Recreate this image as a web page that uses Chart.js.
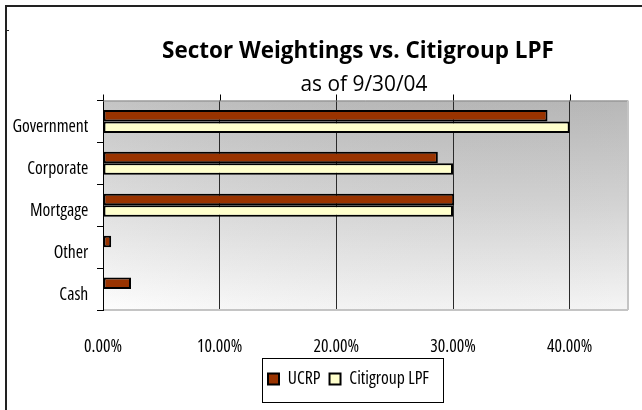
<!DOCTYPE html>
<html>
<head>
<meta charset="utf-8">
<script src="https://cdn.jsdelivr.net/npm/chart.js@4.4.0/dist/chart.umd.min.js"></script>
<style>
    body { margin: 0; background: #fff; }
</style>
</head>
<body>
<canvas id="sectors" width="642" height="410"></canvas>
<script>
// data (percent)
var sectors = ['Government', 'Corporate', 'Mortgage', 'Other', 'Cash'];
var ucrp = [38.1, 28.7, 30.1, 0.7, 2.4];
var citiLPF = [40.0, 30.0, 30.0, 0, 0];
var xTicks = [0, 10, 20, 30, 40];
var titleText = 'Sector Weightings vs. Citigroup LPF';
var subText = 'as of 9/30/04';

// font helpers: size the system fonts so the text widths match the original
var probe = document.createElement('canvas').getContext('2d');
function measure(font, text) { probe.font = font; return probe.measureText(text).width; }
function sizeFor(weight, family, text, target) { return 20 * target / measure(weight + ' 20px ' + family, text); }
function glyphBox(font) {   // how far a capital sits above / below a 'middle' baseline
    probe.font = font;
    probe.textBaseline = 'middle';
    var m = probe.measureText('H');
    probe.textBaseline = 'alphabetic';
    return { up: m.actualBoundingBoxAscent, down: m.actualBoundingBoxDescent };
}
function pickNarrow() {     // a condensed face, like the original's Gill Sans condensed
    var tries = [['extra-condensed', "'Noto Sans'"], ['condensed', "'Open Sans'"], ['condensed', "'Noto Sans'"]];
    for (var i = 0; i < tries.length; i++) {
        var n = measure('normal 20px ' + tries[i][1], 'Government');
        var c = measure(tries[i][0] + ' 20px ' + tries[i][1], 'Government');
        if (c < 0.88 * n) return { weight: tries[i][0], family: tries[i][1] };
    }
    var mono = measure('20px monospace', 'Government');
    if (measure("20px 'Liberation Sans Narrow', monospace", 'Government') !== mono) {
        return { weight: 'normal', family: "'Liberation Sans Narrow'" };
    }
    return { weight: 'normal', family: "'DejaVu Sans Condensed'" };
}

var narrow = pickNarrow();
var fs = sizeFor(narrow.weight, narrow.family, 'Government', 76);
var nBox = glyphBox(narrow.weight + ' ' + fs + 'px ' + narrow.family);
var nShift = (nBox.down - nBox.up) / 2;

var ts = sizeFor('bold', "'Open Sans'", titleText, 392);
var tBox = glyphBox('bold ' + ts + 'px ' + "'Open Sans'");
var ss = sizeFor('normal', "'Open Sans'", subText, 127);
var sBox = glyphBox('normal ' + ss + 'px ' + "'Open Sans'");

var titlePadTop = 58.3 - tBox.down - ts * 0.6;
var titleH = titlePadTop + ts * 1.2;
var subPadTop = 91.3 - sBox.down - ss * 0.6 - titleH;
var subPadBottom = 100.5 - titleH - subPadTop - ss * 1.2;

var legendTop = 379 - 9 - fs / 2;
var legendBottom = legendTop + fs + 19;

var framePlugin = {     // plot background, borders, top tick marks, legend box, page frame
    id: 'framePlugin',
    afterLayout: function(chart) {
        chart.boxes.forEach(function(b) {
            var c = null;
            if (b === chart.legend) c = 348.5;
            else if (b.options && b.options.text === titleText) c = 358;
            else if (b.options && b.options.text === subText) c = 364;
            if (c !== null) {
                var dx = c - (b.left + b.right) / 2;
                b.left += dx;
                b.right += dx;
            }
        });
    },
    beforeDraw: function(chart) {
        var ctx = chart.ctx, a = chart.chartArea;
        ctx.save();
        var g = ctx.createLinearGradient(0, a.top, 0, a.bottom);
        g.addColorStop(0, '#bdbdbd');
        g.addColorStop(0.5, '#dadada');
        g.addColorStop(1, '#fdfdfd');
        ctx.fillStyle = g;
        ctx.fillRect(a.left, a.top, a.right - a.left, a.bottom - a.top);
        var h = ctx.createLinearGradient(a.left, 0, a.right, 0);
        h.addColorStop(0, 'rgba(255,255,255,0.12)');
        h.addColorStop(1, 'rgba(0,0,0,0.03)');
        ctx.fillStyle = h;
        ctx.fillRect(a.left, a.top, a.right - a.left, a.bottom - a.top);
        ctx.restore();
    },
    afterDraw: function(chart) {
        var ctx = chart.ctx, a = chart.chartArea, xs = chart.scales.x;
        ctx.save();
        ctx.lineWidth = 1;
        ctx.strokeStyle = '#888';
        ctx.beginPath();
        ctx.moveTo(a.left, a.top + 0.5); ctx.lineTo(a.right, a.top + 0.5);
        ctx.stroke();
        ctx.strokeStyle = '#c4c4c4';
        ctx.lineWidth = 2;
        ctx.beginPath();
        ctx.moveTo(a.right, a.top); ctx.lineTo(a.right, a.bottom);
        ctx.moveTo(a.left + 1, a.bottom); ctx.lineTo(a.right, a.bottom);
        ctx.stroke();
        // tick marks above the plot
        ctx.strokeStyle = '#000';
        ctx.lineWidth = 1;
        ctx.beginPath();
        xTicks.forEach(function(v) {
            var x = Math.round(xs.getPixelForValue(v)) + 0.5;
            ctx.moveTo(x, a.top - 6); ctx.lineTo(x, a.top);
        });
        ctx.stroke();
        // legend frame
        var hb = chart.legend.legendHitBoxes;
        if (hb && hb.length) {
            var last = hb[hb.length - 1];
            var cy = hb[0].top + hb[0].height / 2;
            var l = Math.round(hb[0].left - 6), r = Math.round(last.left + last.width + 14);
            var t = Math.round(cy - 21), b = Math.round(cy + 23);
            ctx.strokeStyle = '#000';
            ctx.strokeRect(l + 0.5, t + 0.5, r - l, b - t);
        }
        // page frame
        ctx.fillStyle = '#222';
        ctx.fillRect(5, 5, 637, 2);
        ctx.fillRect(5, 5, 2, 405);
        ctx.fillRect(7, 30, 2, 1);
        ctx.restore();
    }
};

function chartSectors() {
    var ctx = document.getElementById('sectors');
    var tickFont = { family: narrow.family, weight: narrow.weight, size: fs };
    var chart = new Chart(ctx, {
        type: 'bar',
        data: {
            labels: sectors,
            datasets: [{
                label: 'UCRP',
                data: ucrp,
                backgroundColor: '#993300',
                borderColor: '#000',
                borderWidth: 2,
                borderSkipped: false,
                categoryPercentage: 0.55,
                barPercentage: 1
            }, {
                label: 'Citigroup LPF',
                data: citiLPF,
                backgroundColor: '#FFFFCC',
                borderColor: '#000',
                borderWidth: 2,
                borderSkipped: false,
                categoryPercentage: 0.55,
                barPercentage: 1
            }]
        },
        options: {
            indexAxis: 'y',
            responsive: false,
            animation: false,
            devicePixelRatio: 1,
            layout: { padding: { top: 0, left: 0, right: 14, bottom: 410 - legendBottom } },
            scales: {
                x: {
                    min: 0,
                    max: 45,
                    border: { display: false },
                    grid: { color: '#2a2a2a', lineWidth: 1, drawTicks: false, tickLength: 0 },
                    ticks: {
                        stepSize: 10,
                        includeBounds: false,
                        maxRotation: 0,
                        padding: 345 - nShift - 310 - fs * 0.6,
                        color: '#000',
                        font: tickFont,
                        callback: function(v) { return v.toFixed(2) + '%'; }
                    },
                    afterBuildTicks: function(scale) {
                        scale.ticks = xTicks.map(function(v) { return { value: v }; });
                    },
                    afterFit: function(scale) { scale.height = legendTop - 310; }
                },
                y: {
                    border: { display: true, color: '#000', width: 1 },
                    grid: { display: true, drawOnChartArea: false, drawTicks: true, tickLength: 6, color: '#000', offset: true },
                    ticks: {
                        padding: 8.7,
                        labelOffset: 4.5 - nShift,
                        color: '#000',
                        font: tickFont
                    },
                    afterFit: function(scale) { scale.width = 103; }
                }
            },
            plugins: {
                title: {
                    display: true,
                    text: titleText,
                    color: '#000',
                    font: { family: "'Open Sans'", size: ts, weight: 'bold' },
                    padding: { top: titlePadTop, bottom: 0 }
                },
                subtitle: {
                    display: true,
                    text: subText,
                    color: '#000',
                    font: { family: "'Open Sans'", size: ss, weight: 'normal' },
                    padding: { top: subPadTop, bottom: subPadBottom }
                },
                legend: {
                    position: 'bottom',
                    labels: {
                        color: '#000',
                        boxWidth: 11,
                        boxHeight: 11,
                        padding: 9,
                        font: tickFont
                    }
                },
                tooltip: { enabled: false }
            }
        },
        plugins: [framePlugin]
    });
}

chartSectors();
</script>
</body>
</html>
